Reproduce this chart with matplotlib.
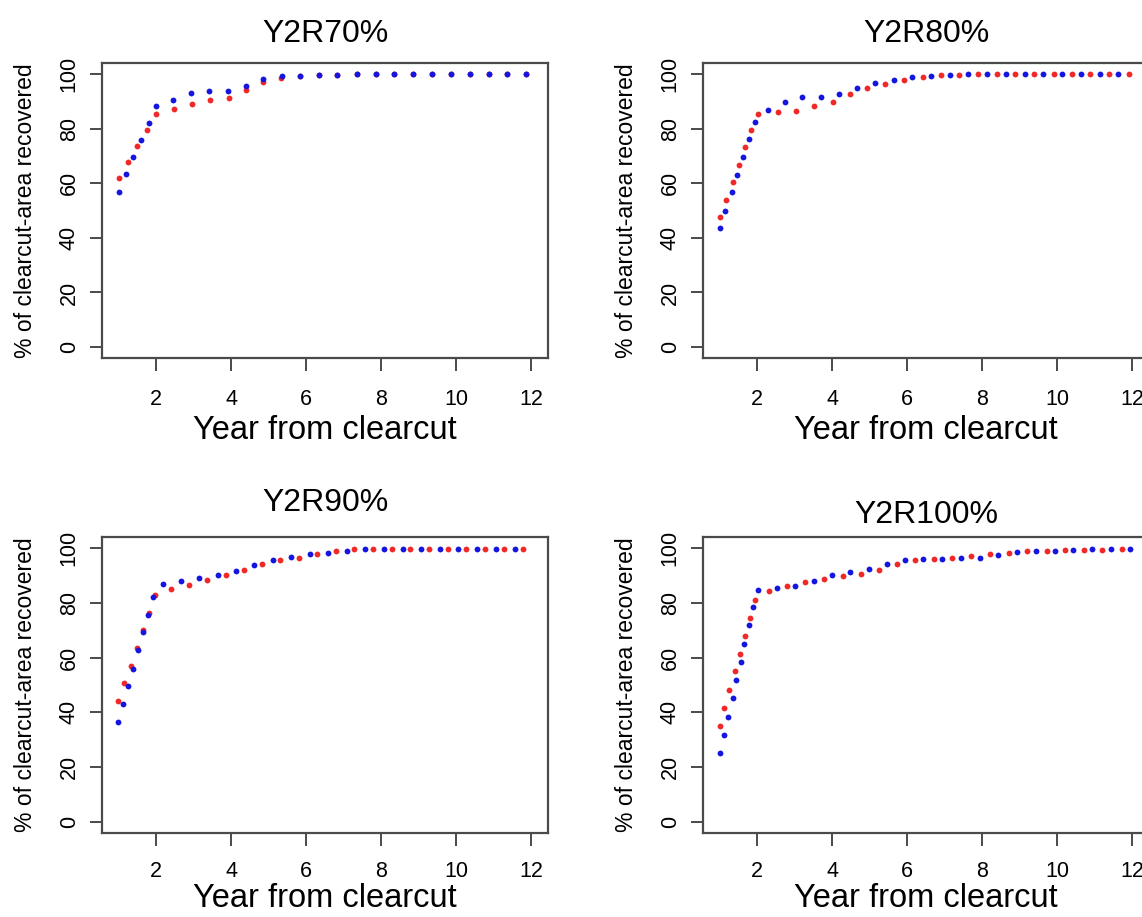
import matplotlib
matplotlib.use("Agg")
import matplotlib.pyplot as plt

plt.rcParams['font.family'] = ['Liberation Sans', 'DejaVu Sans']

# Y2R70%
r70_x = [1.0, 1.25, 1.5, 1.75, 2.0, 2.48, 2.96, 3.45, 3.93, 4.39, 4.84, 5.33, 5.84, 6.33,
         6.83, 7.35, 7.85, 8.35, 8.84, 9.35, 9.85, 10.35, 10.86, 11.36, 11.86]
r70_y = [61.8, 67.6, 73.6, 79.4, 85.5, 87.3, 89.1, 90.3, 91.3, 94.0, 96.9, 98.5, 99.4, 99.6,
         99.7, 99.8, 99.8, 99.8, 99.8, 99.8, 99.8, 99.8, 99.8, 99.8, 99.8]
b70_x = [1.0, 1.2, 1.39, 1.6, 1.8, 2.0, 2.46, 2.93, 3.42, 3.92, 4.39, 4.86, 5.35, 5.84, 6.33,
         6.83, 7.35, 7.85, 8.35, 8.84, 9.35, 9.85, 10.35, 10.86, 11.36, 11.86]
b70_y = [56.9, 63.3, 69.5, 75.7, 82.0, 88.2, 90.6, 93.1, 93.6, 93.7, 95.7, 98.3, 99.1, 99.4, 99.6,
         99.7, 99.8, 99.8, 99.8, 99.8, 99.8, 99.8, 99.8, 99.8, 99.8, 99.8]

# Y2R80%
r80_x = [1.0, 1.17, 1.35, 1.51, 1.67, 1.85, 2.03, 2.55, 3.04, 3.53, 4.02, 4.48, 4.93, 5.42,
         5.91, 6.41, 6.9, 7.39, 7.89, 8.39, 8.88, 9.39, 9.9, 10.39, 10.88, 11.38, 11.9]
r80_y = [47.5, 53.8, 60.4, 66.7, 73.1, 79.4, 85.5, 85.9, 86.5, 88.2, 89.9, 92.6, 94.9, 96.4,
         97.7, 98.8, 99.5, 99.7, 99.8, 99.8, 99.8, 99.8, 99.8, 99.8, 99.8, 99.8, 99.8]
b80_x = [1.0, 1.15, 1.33, 1.47, 1.63, 1.79, 1.94, 2.28, 2.74, 3.21, 3.71, 4.19, 4.66, 5.15,
         5.65, 6.13, 6.62, 7.13, 7.62, 8.13, 8.62, 9.13, 9.62, 10.13, 10.62, 11.13, 11.62]
b80_y = [43.6, 50.0, 56.6, 63.0, 69.5, 76.0, 82.4, 86.7, 89.6, 91.5, 91.5, 92.6, 94.9, 96.8,
         97.8, 98.8, 99.3, 99.7, 99.8, 99.8, 99.8, 99.8, 99.8, 99.8, 99.8, 99.8, 99.8]

# Y2R90%
r90_x = [0.99, 1.15, 1.33, 1.49, 1.65, 1.81, 1.97, 2.4, 2.89, 3.37, 3.86, 4.34, 4.83, 5.31,
         5.81, 6.29, 6.78, 7.28, 7.79, 8.29, 8.77, 9.28, 9.77, 10.26, 10.75, 11.26, 11.78]
r90_y = [44.2, 50.7, 56.9, 63.4, 69.9, 76.2, 82.7, 85.1, 86.5, 88.2, 90.3, 92.1, 94.0, 95.5,
         96.5, 97.7, 98.9, 99.5, 99.8, 99.8, 99.8, 99.8, 99.8, 99.8, 99.8, 99.8, 99.8]
b90_x = [0.99, 1.13, 1.26, 1.39, 1.53, 1.66, 1.79, 1.93, 2.18, 2.67, 3.15, 3.65, 4.14, 4.62,
         5.11, 5.6, 6.09, 6.59, 7.08, 7.57, 8.07, 8.57, 9.07, 9.56, 10.05, 10.55, 11.05, 11.55]
b90_y = [36.4, 42.9, 49.5, 56.0, 62.7, 69.3, 75.7, 82.2, 86.9, 88.1, 89.2, 90.3, 91.6, 93.7,
         95.5, 96.7, 97.8, 98.3, 98.8, 99.5, 99.8, 99.8, 99.8, 99.8, 99.8, 99.8, 99.8, 99.8]

# Y2R100%
r100_x = [1.0, 1.13, 1.26, 1.41, 1.55, 1.68, 1.82, 1.95, 2.33, 2.8, 3.29, 3.78, 4.29, 4.77,
          5.26, 5.73, 6.21, 6.7, 7.2, 7.71, 8.21, 8.7, 9.2, 9.71, 10.19, 10.7, 11.2, 11.71]
r100_y = [35.0, 41.5, 48.2, 55.2, 61.3, 67.9, 74.5, 81.0, 84.4, 86.2, 87.6, 88.8, 89.7, 90.5,
          91.8, 94.1, 95.6, 95.9, 96.2, 97.1, 97.7, 98.3, 98.8, 99.0, 99.2, 99.2, 99.2, 99.5]
b100_x = [1.0, 1.11, 1.22, 1.35, 1.44, 1.57, 1.66, 1.79, 1.89, 2.03, 2.53, 3.02, 3.51, 3.99,
          4.48, 4.97, 5.46, 5.93, 6.43, 6.93, 7.42, 7.95, 8.43, 8.93, 9.42, 9.93, 10.42, 10.93,
          11.42, 11.93]
b100_y = [25.2, 31.8, 38.4, 45.3, 51.8, 58.5, 65.0, 71.8, 78.3, 84.7, 85.5, 86.3, 88.1, 90.0,
          91.1, 92.3, 94.0, 95.7, 96.0, 96.1, 96.2, 96.2, 97.4, 98.5, 98.8, 98.9, 99.2, 99.5,
          99.5, 99.7]

titles = ['Y2R70%', 'Y2R80%', 'Y2R90%', 'Y2R100%']
series = [(r70_x, r70_y, b70_x, b70_y),
          (r80_x, r80_y, b80_x, b80_y),
          (r90_x, r90_y, b90_x, b90_y),
          (r100_x, r100_y, b100_x, b100_y)]

W, H = 1142, 917
fig = plt.figure(figsize=(W / 100, H / 100), dpi=100)

# panel boxes in pixels: left, top, right, bottom
boxes = [(102, 63, 548, 358), (703, 63, 1149, 358),
         (102, 537, 548, 833), (703, 537, 1149, 833)]
title_pads = [15, 15, 19, 10]
xtick_pads = [13, 13, 11, 11]
xlabel_pads = [4, 4, 1, 1]

for k in range(4):
    l, t, r, b = boxes[k]
    ax = fig.add_axes([l / W, 1 - b / H, (r - l) / W, (b - t) / H])
    rx, ry, bx, by = series[k]
    ax.plot(rx, ry, 'o', color='#f02828', ms=4.2, mec='none')
    ax.plot(bx, by, 'o', color='#1515e0', ms=4.2, mec='none')
    ax.set_xlim(0.56, 12.44)
    ax.set_ylim(-4, 104)
    ax.set_xticks([2, 4, 6, 8, 10, 12])
    ax.set_yticks([0, 20, 40, 60, 80, 100])
    for s in ax.spines.values():
        s.set_color('#4a4a4a')
        s.set_linewidth(1.6)
    ax.tick_params(direction='out', length=9, width=1.4, color='#4a4a4a',
                   labelsize=15.5)
    ax.tick_params(axis='x', pad=xtick_pads[k])
    ax.tick_params(axis='y', pad=7)
    for lab in ax.get_yticklabels():
        lab.set_rotation(90)
        lab.set_va('center')
    ax.set_title(titles[k], fontsize=23, pad=title_pads[k])
    ax.set_xlabel('Year from clearcut', fontsize=23.5, labelpad=xlabel_pads[k])
    ax.set_ylabel('% of clearcut-area recovered', fontsize=16.5, labelpad=16)

fig.savefig('out.png', dpi=100)
